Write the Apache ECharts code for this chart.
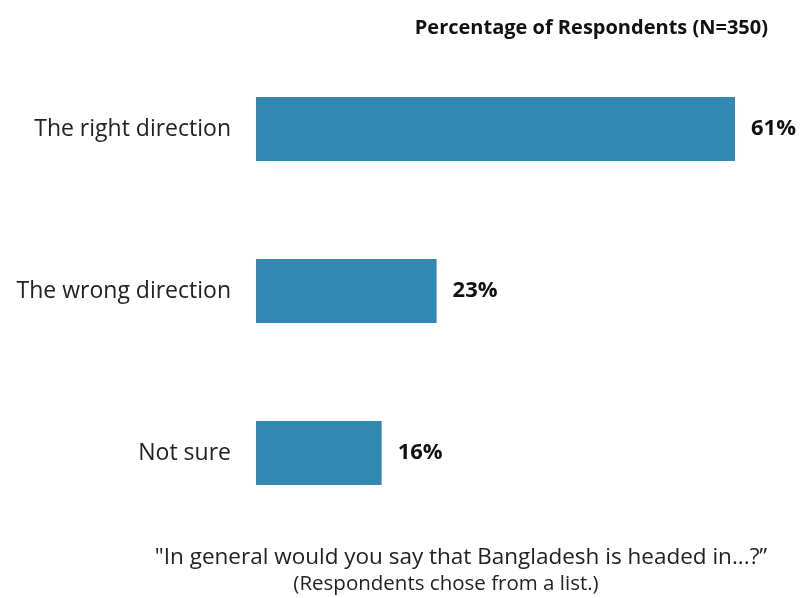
<!DOCTYPE html>
<html><head><meta charset="utf-8">
<script src="https://cdn.jsdelivr.net/npm/echarts@6/dist/echarts.min.js"></script>
<style>html,body{margin:0;padding:0;background:#fff}#c{width:800px;height:598px}</style>
</head><body><div id="c"></div>
<script>
var categories = ["The right direction", "The wrong direction", "Not sure"];
var values = [61, 23, 16];
var titleText = "Percentage of Respondents (N=350)";
var footer1 = "\"In general would you say that Bangladesh is headed in...?\u201D";
var footer2 = "(Respondents chose from a list.)";

var FONT = "'Open Sans', sans-serif";
var chart = echarts.init(document.getElementById('c'));
chart.setOption({
  animation: false,
  title: [
    {text: titleText, right: 27, top: 13, textStyle: {fontFamily: FONT, fontWeight: 'bold', fontSize: 20, color: '#111'}},
    {text: footer1, left: 456, textAlign: 'center', top: 541, textStyle: {fontFamily: FONT, fontWeight: 'normal', fontSize: 22.5, color: '#222'}},
    {text: footer2, left: 441, textAlign: 'center', top: 569, textStyle: {fontFamily: FONT, fontWeight: 'normal', fontSize: 20.5, color: '#222'}}
  ],
  grid: {left: 256, width: 500, top: 48, height: 486, containLabel: false},
  xAxis: {type: 'value', min: 0, max: 61 * 500 / 479, show: false},
  yAxis: {type: 'category', data: categories, inverse: true,
    axisLine: {show: false}, axisTick: {show: false}, splitLine: {show: false},
    axisLabel: {margin: 25, fontFamily: FONT, fontSize: 23, color: '#222'}},
  series: [{type: 'bar', data: values, barWidth: 64,
    itemStyle: {color: '#3287B3'},
    label: {show: true, position: 'right', distance: 16, formatter: '{c}%',
      fontFamily: FONT, fontWeight: 'bold', fontSize: 22, color: '#111'}}]
});
</script></body></html>
